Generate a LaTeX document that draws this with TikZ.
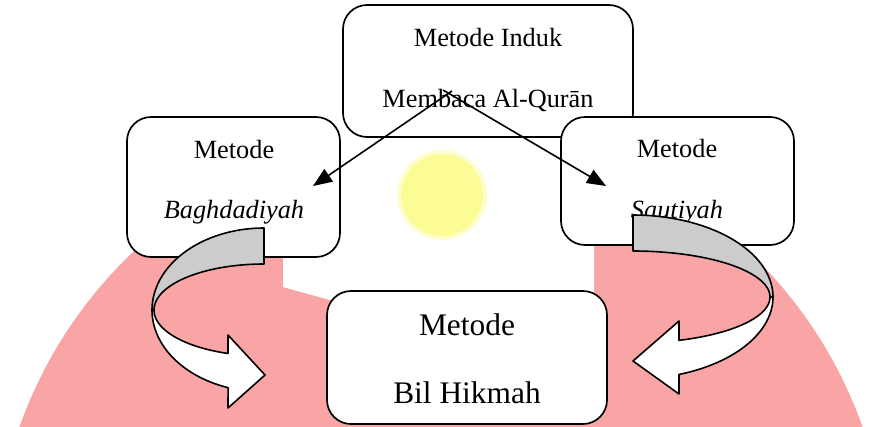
\documentclass[tikz,border=0pt]{standalone}
\usepackage{fontspec}
\setmainfont{Liberation Serif}
\usetikzlibrary{arrows.meta}
\definecolor{wmpink}{RGB}{249,165,165}
\definecolor{wmyellow}{RGB}{252,252,150}
\definecolor{wmyellowedge}{RGB}{253,253,205}
\definecolor{bandgray}{RGB}{204,204,204}
\begin{document}
\begin{tikzpicture}[x=1pt,y=-1pt,
  box/.style={draw=black, line width=1.7pt, fill=white, rounded corners=24pt, inner sep=0pt},
  small/.style={inner sep=0pt, anchor=base, font=\fontsize{26.3pt}{30pt}\selectfont},
  big/.style={inner sep=0pt, anchor=base, font=\fontsize{31.4pt}{36pt}\selectfont},
  conn/.style={line width=1.6pt, -{Triangle[length=19pt,width=15pt]}},
  band/.style={draw=black, line width=1.6pt, line join=round}]
\useasboundingbox (0,0) rectangle (869,426);
\fill[white] (0,0) rectangle (869,426);
% watermark
\fill[wmpink] (441,576) circle[radius=447pt];
\fill[white] (283,-5) -- (283,287) -- (330,300) -- (594,300) -- (594,-5) -- cycle;
\fill[wmyellowedge] (442,195) circle[radius=45pt];
\fill[wmyellow] (442,195) circle[radius=41pt];
% boxes
\node[box, minimum width=290pt, minimum height=132pt] (top) at (488,71) {};
\node[box, minimum width=213pt, minimum height=140pt] (left) at (233.5,187) {};
\node[box, minimum width=233pt, minimum height=128pt] (right) at (677.5,181) {};
% texts
\node[small] (tI) at (488,46) {Metode Induk};
\node[small] (tM) at (488,107) {Membaca Al-Qurān};
\node[small] (lM) at (234,158) {Metode};
\node[small] (lB) at (234,218) {\itshape Baghdadiyah};
\node[small] (rM) at (677,157) {Metode};
\node[small] (rS) at (677,218) {\itshape Sautiyah};
% connectors
\coordinate (aL) at (452,91);
\coordinate (tipL) at (313,186);
\coordinate (aR) at (443,90);
\coordinate (tipR) at (606,186);
\draw[conn] (aL) -- (tipL);
\draw[conn] (aR) -- (tipR);
% bottom box
\node[box, minimum width=280pt, minimum height=133pt] (bottom) at (467,357.5) {};
\node[big] (bM) at (467,335) {Metode};
\node[big] (bB) at (467,403) {Bil Hikmah};
% left curved arrow
\filldraw[band, fill=bandgray] (264,228)
  -- plot[domain=270:180, samples=40] ({264+112*cos(\x)},{310+82*sin(\x)})
  -- plot[domain=180:270, samples=40] ({264+110*cos(\x)},{310+46*sin(\x)})
  -- cycle;
\filldraw[band, fill=white] (154,310)
  -- plot[domain=180:109.1, samples=40] ({264+110*cos(\x)},{310+46*sin(\x)})
  -- (228,335) -- (265,375) -- (228,408)
  -- plot[domain=108.7:180, samples=40] ({264+112*cos(\x)},{310+82*sin(\x)})
  -- cycle;
% right curved arrow
\filldraw[band, fill=bandgray] (633,215)
  -- plot[domain=-90:0, samples=40] ({633+140*cos(\x)},{297+82*sin(\x)})
  -- plot[domain=0:-90, samples=40] ({633+137*cos(\x)},{297+46*sin(\x)})
  -- cycle;
\filldraw[band, fill=white] (770,297)
  -- plot[domain=0:70.4, samples=40] ({633+137*cos(\x)},{297+46*sin(\x)})
  -- (679,321) -- (633,361) -- (679,394)
  -- plot[domain=70.8:0, samples=40] ({633+140*cos(\x)},{297+82*sin(\x)})
  -- cycle;
\end{tikzpicture}
\end{document}
